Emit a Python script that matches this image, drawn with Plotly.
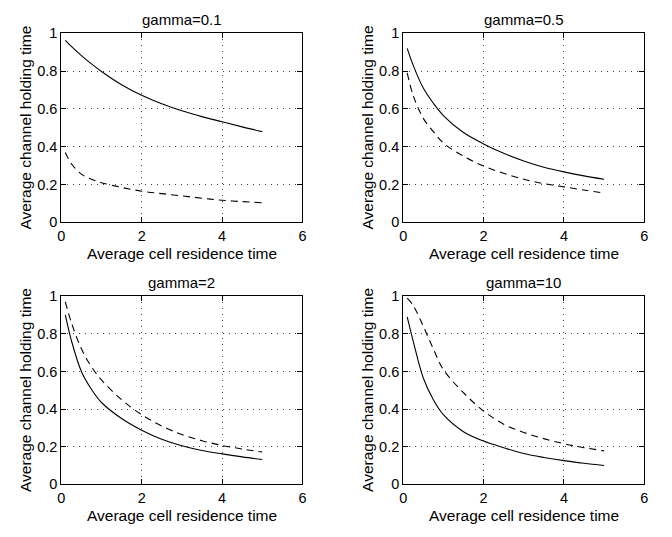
import plotly.graph_objects as go

# Shared x values (average cell residence time)
x_vals = [0.1, 0.25, 0.5, 0.75, 1, 1.5, 2, 2.5, 3, 3.5, 4, 4.5, 5]

titles = ["gamma=0.1", "gamma=0.5", "gamma=2", "gamma=10"]

solid_g01 = [0.962, 0.93, 0.882, 0.838, 0.798, 0.728, 0.672, 0.627, 0.59, 0.559, 0.532, 0.505, 0.48]
dash_g01 = [0.37, 0.31, 0.255, 0.228, 0.21, 0.185, 0.165, 0.152, 0.14, 0.128, 0.117, 0.11, 0.104]

solid_g05 = [0.92, 0.83, 0.71, 0.63, 0.565, 0.475, 0.415, 0.365, 0.325, 0.292, 0.267, 0.246, 0.228]
dash_g05 = [0.79, 0.67, 0.55, 0.48, 0.42, 0.35, 0.298, 0.26, 0.228, 0.205, 0.188, 0.171, 0.155]

solid_g2 = [0.90, 0.765, 0.60, 0.505, 0.435, 0.35, 0.288, 0.24, 0.205, 0.18, 0.162, 0.146, 0.132]
dash_g2 = [0.97, 0.86, 0.72, 0.625, 0.555, 0.45, 0.37, 0.31, 0.265, 0.232, 0.207, 0.188, 0.172]

solid_g10 = [0.89, 0.76, 0.565, 0.45, 0.37, 0.28, 0.23, 0.195, 0.164, 0.143, 0.126, 0.112, 0.10]
dash_g10 = [0.99, 0.95, 0.84, 0.72, 0.61, 0.487, 0.39, 0.32, 0.276, 0.243, 0.216, 0.195, 0.178]

solid_series = [solid_g01, solid_g05, solid_g2, solid_g10]
dash_series = [dash_g01, dash_g05, dash_g2, dash_g10]

x_ticks = [0, 2, 4, 6]
y_ticks = [0, 0.2, 0.4, 0.6, 0.8, 1]

xlabel = "Average cell residence time"
ylabel = "Average channel holding time"

W, H = 672, 537
# pixel boxes of the four axes (left, right, top, bottom)
boxes = [(58, 302, 26, 221), (404, 648, 26, 221), (58, 302, 297, 491), (404, 648, 297, 491)]

FONT = "Liberation Sans, Arial, Helvetica, sans-serif"

fig = go.Figure()
layout = dict(
    width=W, height=H,
    margin=dict(l=0, r=0, t=0, b=0),
    paper_bgcolor="white", plot_bgcolor="white",
    showlegend=False,
    font=dict(family=FONT, color="black", size=14),
)
annotations = []

for i in range(4):
    n = "" if i == 0 else str(i + 1)
    xa, ya = "x" + n, "y" + n
    l, r, t, b = boxes[i]
    xd = [l / W, r / W]
    yd = [1 - b / H, 1 - t / H]
    fig.add_trace(go.Scatter(x=x_vals, y=solid_series[i], mode="lines",
                             line=dict(color="black", width=1.1, shape="spline", smoothing=1.0),
                             xaxis=xa, yaxis=ya))
    fig.add_trace(go.Scatter(x=x_vals, y=dash_series[i], mode="lines",
                             line=dict(color="black", width=1.1, dash="7px,5px",
                                       shape="spline", smoothing=1.0),
                             xaxis=xa, yaxis=ya))
    common = dict(showline=True, linecolor="black", linewidth=1, mirror="ticks",
                  ticks="inside", ticklen=5, tickcolor="black",
                  showgrid=True, gridcolor="#444", gridwidth=1, griddash="1px,5px",
                  zeroline=False, tickfont=dict(size=14.5, family=FONT, color="black"))
    layout["xaxis" + n] = dict(domain=xd, anchor=ya, range=[0, 6], tickvals=x_ticks,
                               ticktext=[str(v) for v in x_ticks], **common)
    layout["yaxis" + n] = dict(domain=yd, anchor=xa, range=[0, 1], tickvals=y_ticks,
                               ticktext=["0", "0.2", "0.4", "0.6", "0.8", "1"], **common)
    cx = (l + r) / 2
    annotations.append(dict(text=titles[i], x=cx / W, y=1 - (t - 14) / H, xref="paper", yref="paper",
                            showarrow=False, xanchor="center", yanchor="middle",
                            font=dict(size=15, family=FONT)))
    annotations.append(dict(text=xlabel, x=cx / W, y=1 - (b + 32) / H, xref="paper", yref="paper",
                            showarrow=False, xanchor="center", yanchor="middle",
                            font=dict(size=15.5, family=FONT)))
    annotations.append(dict(text=ylabel, x=(l - 36) / W, y=1 - ((t + b) / 2) / H,
                            xref="paper", yref="paper", textangle=-90,
                            showarrow=False, xanchor="center", yanchor="middle",
                            font=dict(size=15.5, family=FONT)))

layout["annotations"] = annotations
fig.update_layout(**layout)
fig.write_html("out.html", config={"displayModeBar": False},
               post_script="document.body.style.margin='0';document.body.style.overflow='hidden';")
